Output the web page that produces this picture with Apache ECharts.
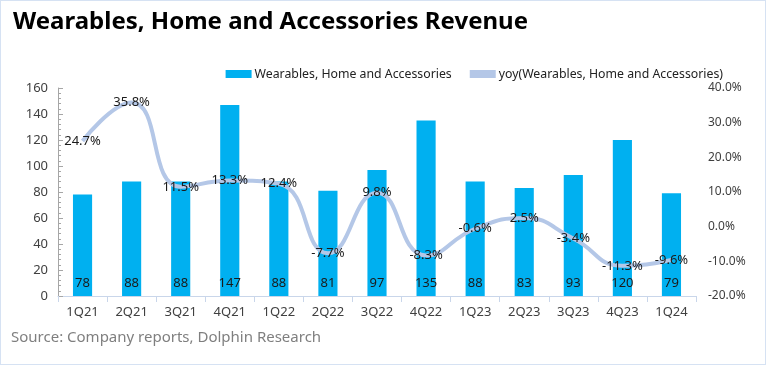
<!DOCTYPE html>
<html><head><meta charset="utf-8">
<script src="https://cdn.jsdelivr.net/npm/echarts@6/dist/echarts.min.js"></script>
<style>html,body{margin:0;padding:0;background:#fff}#c{width:766px;height:365px;box-sizing:border-box;border:1px solid #d6e2f3}</style>
</head><body><div id="c"></div>
<script>
const categories = ['1Q21','2Q21','3Q21','4Q21','1Q22','2Q22','3Q22','4Q22','1Q23','2Q23','3Q23','4Q23','1Q24'];
const revenue = [78, 88, 88, 147, 88, 81, 97, 135, 88, 83, 93, 120, 79];
const yoy = [24.7, 35.8, 11.5, 13.3, 12.4, -7.7, 9.8, -8.3, -0.6, 2.5, -3.4, -11.3, -9.6];
const leftTicks = [0, 160, 20];
const rightTicks = [-20, 40, 10];

const font = '"Noto Sans", "Open Sans", sans-serif';
const chart = echarts.init(document.getElementById('c'), null, {renderer: 'canvas'});
chart.setOption({
  animation: false,
  textStyle: {fontFamily: font},
  title: {text: 'Wearables, Home and Accessories Revenue', left: 7, top: 4,
    textStyle: {fontFamily: font, fontWeight: 'bold', fontSize: 24, color: '#000'}},
  legend: {top: 62, right: 37, itemGap: 18, itemWidth: 26, itemHeight: 8,
    textStyle: {fontFamily: font, fontSize: 12.3, color: '#222', padding: [0, 0, 0, -2]},
    data: [{name: 'Wearables, Home and Accessories', icon: 'rect'},
           {name: 'yoy(Wearables, Home and Accessories)', icon: 'rect', itemStyle: {color: '#b4c7e7'}}]},
  graphic: [{type: 'text', left: 10, top: 329,
    style: {text: 'Source: Company reports, Dolphin Research', fontSize: 15, fill: '#7f7f7f', fontFamily: font}}],
  grid: {left: 57, right: 69, top: 87, bottom: 68},
  xAxis: {type: 'category', data: categories,
    axisLine: {lineStyle: {color: '#c9d6ea'}},
    axisTick: {show: true, alignWithLabel: false, length: 6, lineStyle: {color: '#c9d6ea'}},
    axisLabel: {color: '#404040', fontSize: 13, margin: 10}},
  yAxis: [
    {type: 'value', min: leftTicks[0], max: leftTicks[1], interval: leftTicks[2],
     axisLine: {show: true, lineStyle: {color: '#a6a6a6'}},
     axisTick: {show: true, inside: true, length: 5, lineStyle: {color: '#a6a6a6'}},
     minorTick: {show: true, splitNumber: 5, length: 3, lineStyle: {color: '#a6a6a6'}},
     splitLine: {show: false},
     axisLabel: {color: '#404040', fontSize: 13, margin: 10}},
    {type: 'value', min: rightTicks[0], max: rightTicks[1], interval: rightTicks[2],
     axisLine: {show: false}, axisTick: {show: false}, splitLine: {show: false},
     axisLabel: {color: '#404040', fontSize: 12, margin: 12, formatter: v => v.toFixed(1) + '%'}}
  ],
  series: [
    {name: 'Wearables, Home and Accessories', type: 'bar', data: revenue, barWidth: '39%',
     itemStyle: {color: '#00b0f0'},
     label: {show: true, position: 'insideBottom', distance: 6, color: '#1a1a1a', fontSize: 13}},
    {name: 'yoy(Wearables, Home and Accessories)', type: 'line', yAxisIndex: 1, data: yoy,
     smooth: 0.5, symbol: 'circle', symbolSize: 1, showSymbol: true,
     itemStyle: {color: 'rgba(0,0,0,0)'},
     lineStyle: {color: '#b4c7e7', width: 4},
     label: {show: true, position: 'inside', color: '#1a1a1a', fontSize: 13,
       formatter: p => p.value.toFixed(1) + '%'}}
  ]
});
</script></body></html>
